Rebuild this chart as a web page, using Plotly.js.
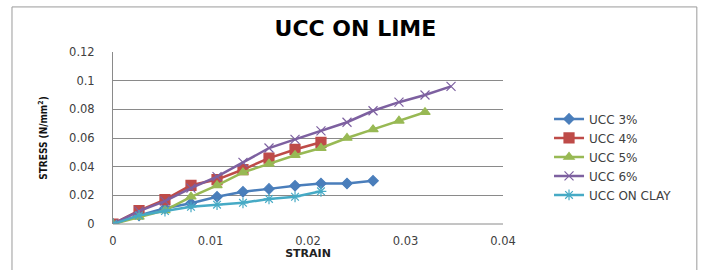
<!DOCTYPE html>
<html>
<head>
<meta charset="utf-8">
<script src="https://cdn.plot.ly/plotly-3.0.1.min.js"></script>
<style>html,body{margin:0;padding:0;background:#fff;}#chart{width:701px;height:270px;}</style>
</head>
<body>
<div id="chart"></div>
<script>
// Strain values (common sampling)
const strain = [0, 0.00267, 0.00533, 0.008, 0.01067, 0.01333, 0.016, 0.01867, 0.02133, 0.024, 0.02667, 0.02933, 0.032, 0.03467];

const ucc3 = [0, 0.006, 0.011, 0.0145, 0.019, 0.0225, 0.0245, 0.0267, 0.0283, 0.0283, 0.0302];
const ucc4 = [0, 0.0093, 0.017, 0.027, 0.031, 0.038, 0.046, 0.052, 0.057];
const ucc5 = [0, 0.005, 0.0095, 0.019, 0.027, 0.036, 0.042, 0.048, 0.053, 0.060, 0.066, 0.072, 0.078];
const ucc6 = [0, 0.009, 0.016, 0.025, 0.033, 0.043, 0.053, 0.059, 0.065, 0.071, 0.079, 0.085, 0.090, 0.096];
const uccClay = [0, 0.006, 0.009, 0.012, 0.0135, 0.0148, 0.0175, 0.019, 0.0228];

const seriesNames = ['UCC 3%', 'UCC 4%', 'UCC 5%', 'UCC 6%', 'UCC ON CLAY'];
const seriesValues = [ucc3, ucc4, ucc5, ucc6, uccClay];
const colors = ['#4A7EBB', '#BE4B48', '#98B954', '#7D60A0', '#46AAC5'];
const symbols = ['diamond', 'square', 'triangle-up', 'x-thin-open', 'asterisk-open'];
const sizes = [8, 10, 9, 9, 9];

const xTicks = [0, 0.01, 0.02, 0.03, 0.04];
const xTickText = ['0', '0.01', '0.02', '0.03', '0.04'];
const yTicks = [0, 0.02, 0.04, 0.06, 0.08, 0.1, 0.12];
const yTickText = ['0', '0.02', '0.04', '0.06', '0.08', '0.1', '0.12'];

const traces = seriesValues.map((vals, i) => ({
  type: 'scatter',
  mode: 'lines+markers',
  name: seriesNames[i],
  x: strain.slice(0, vals.length),
  y: vals,
  line: {color: colors[i], width: 2.5},
  marker: {symbol: symbols[i], size: sizes[i], color: colors[i], line: {color: colors[i], width: 1.2}}
}));

const layout = {
  width: 701, height: 270,
  margin: {l: 113, r: 198, t: 52, b: 46},
  paper_bgcolor: '#fff', plot_bgcolor: '#fff',
  font: {family: 'DejaVu Sans, sans-serif', size: 11, color: '#404040'},
  title: {text: 'UCC ON LIME', font: {family: 'DejaVu Sans, sans-serif', size: 22, color: '#000', weight: 700},
          x: 0.507, xref: 'container', xanchor: 'center', y: 0.897, yref: 'container', yanchor: 'middle'},
  xaxis: {
    range: [0, 0.04], tickvals: xTicks, ticktext: xTickText,
    showgrid: false, zeroline: false, showline: false,
    ticks: '', tickfont: {size: 11.5, color: '#404040'}, ticklabelstandoff: 8,
    title: {text: 'STRAIN', font: {family: 'DejaVu Sans, sans-serif', size: 11, color: '#222', weight: 700}, standoff: 2},
    fixedrange: true
  },
  yaxis: {
    range: [0, 0.12], tickvals: yTicks, ticktext: yTickText,
    showgrid: true, gridcolor: '#8a8a8a', gridwidth: 1,
    zeroline: false, showline: true, linecolor: '#8a8a8a', linewidth: 1,
    ticks: '', tickfont: {size: 11.5, color: '#404040'}, ticklabelstandoff: 15,
    title: {text: 'STRESS (N/mm<sup>2</sup>)', font: {family: 'Liberation Sans Narrow, DejaVu Sans Condensed, sans-serif', size: 10, color: '#111', weight: 700}, standoff: 19},
    fixedrange: true
  },
  legend: {
    x: 1.118, xanchor: 'left', y: 0.39, yanchor: 'middle',
    font: {family: 'DejaVu Sans, sans-serif', size: 12, color: '#404040'},
    bgcolor: 'rgba(0,0,0,0)', tracegroupgap: 0, itemwidth: 30
  },
  shapes: [
    {type: 'rect', xref: 'paper', yref: 'paper', x0: -0.259, x1: 1.497, y0: -0.4, y1: 1.262,
     line: {color: '#9a9a9a', width: 1}, fillcolor: 'rgba(0,0,0,0)', layer: 'below'},
    {type: 'line', xref: 'paper', yref: 'paper', x0: 0, x1: 1, y0: 0, y1: 0, line: {color: '#8a8a8a', width: 1}}
  ],
  showlegend: true
};

Plotly.newPlot('chart', traces, layout, {displayModeBar: false, staticPlot: true});
</script>
</body>
</html>
